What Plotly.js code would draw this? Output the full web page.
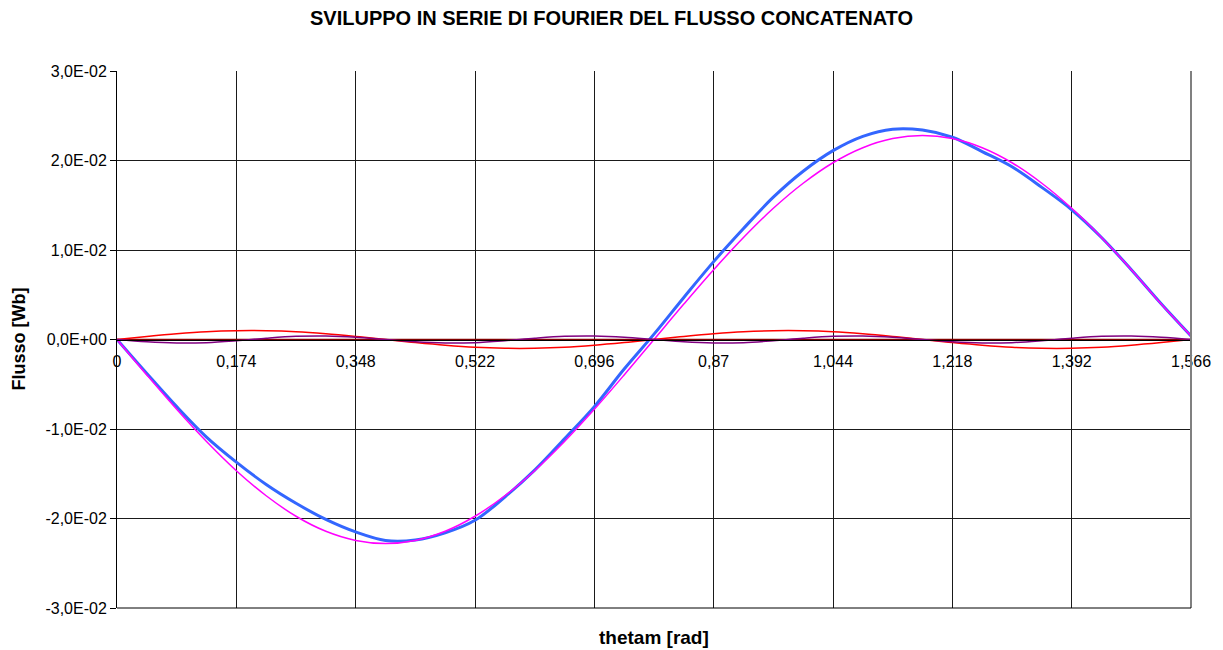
<!DOCTYPE html>
<html>
<head>
<meta charset="utf-8">
<script src="https://cdn.plot.ly/plotly-3.0.1.min.js"></script>
<style>html,body{margin:0;padding:0;background:#fff;}#chart{width:1223px;height:650px;}</style>
</head>
<body>
<div id="chart"></div>
<script>
// theta_m [rad]
const thetam = [0, 0.0435, 0.087, 0.1305, 0.174, 0.2175, 0.261, 0.3045, 0.348, 0.3915, 0.435, 0.4785, 0.522, 0.5655, 0.609, 0.6525, 0.696, 0.7395, 0.783, 0.8265, 0.87, 0.9135, 0.957, 1.0005, 1.044, 1.0875, 1.131, 1.1745, 1.218, 1.2615, 1.305, 1.3485, 1.392, 1.4355, 1.479, 1.5225, 1.566];

// total linked flux (blue)
const fluxTotal = [0, -0.0038, -0.0075, -0.0109, -0.0137, -0.0162, -0.0183, -0.0201, -0.0215, -0.02245, -0.0224, -0.0216, -0.0202, -0.0176, -0.0146, -0.0111, -0.0075, -0.0033, 0.0006, 0.0047, 0.0087, 0.0124, 0.0159, 0.0188, 0.0211, 0.0227, 0.0235, 0.0234, 0.0226, 0.0210, 0.0193, 0.0170, 0.0145, 0.0114, 0.0078, 0.0040, 0.0004];

// fundamental harmonic (magenta)
const harm1 = [0, -0.00396, -0.0078, -0.0114, -0.01466, -0.01746, -0.01975, -0.02143, -0.02245, -0.0228, -0.02245, -0.02143, -0.01975, -0.01746, -0.01466, -0.0114, -0.0078, -0.00396, 0, 0.00396, 0.0078, 0.0114, 0.01466, 0.01746, 0.01975, 0.02143, 0.02245, 0.0228, 0.02245, 0.02143, 0.01975, 0.01746, 0.01466, 0.0114, 0.0078, 0.00396, 0.0004];

// second harmonic (red)
const harm2 = [0, 0.00034, 0.00064, 0.00087, 0.00098, 0.00098, 0.00087, 0.00064, 0.00034, 0, -0.00034, -0.00064, -0.00087, -0.00098, -0.00098, -0.00087, -0.00064, -0.00034, 0, 0.00034, 0.00064, 0.00087, 0.00098, 0.00098, 0.00087, 0.00064, 0.00034, 0, -0.00034, -0.00064, -0.00087, -0.00098, -0.00098, -0.00087, -0.00064, -0.00034, 0];

// fourth harmonic (purple)
const harm4 = [0, -0.00026, -0.00039, -0.00035, -0.00014, 0.00014, 0.00035, 0.00039, 0.00026, 0, -0.00026, -0.00039, -0.00035, -0.00014, 0.00014, 0.00035, 0.00039, 0.00026, 0, -0.00026, -0.00039, -0.00035, -0.00014, 0.00014, 0.00035, 0.00039, 0.00026, 0, -0.00026, -0.00039, -0.00035, -0.00014, 0.00014, 0.00035, 0.00039, 0.00026, 0];

// third harmonic (dark red, null)
const harm3 = [0, 0, 0, 0, 0, 0, 0, 0, 0, 0, 0, 0, 0, 0, 0, 0, 0, 0, 0, 0, 0, 0, 0, 0, 0, 0, 0, 0, 0, 0, 0, 0, 0, 0, 0, 0, 0];

const xTickVals = [0, 0.174, 0.348, 0.522, 0.696, 0.87, 1.044, 1.218, 1.392, 1.566];
const xTickText = ["0", "0,174", "0,348", "0,522", "0,696", "0,87", "1,044", "1,218", "1,392", "1,566"];
const yTickVals = [-0.03, -0.02, -0.01, 0, 0.01, 0.02, 0.03];
const yTickText = ["-3,0E-02", "-2,0E-02", "-1,0E-02", "0,0E+00", "1,0E-02", "2,0E-02", "3,0E-02"];

const font = "Liberation Sans, Arial, sans-serif";
function tr(y, color, width) {
  return {x: thetam, y: y, type: 'scatter', mode: 'lines',
          line: {color: color, width: width, shape: 'spline', smoothing: 1},
          hoverinfo: 'skip', showlegend: false};
}
const data = [
  tr(fluxTotal, '#3366FF', 3),
  tr(harm1, '#FF00FF', 1.5),
  tr(harm3, '#800000', 1.5),
  tr(harm2, '#FF0000', 1.5),
  tr(harm4, '#800080', 1.5)
];
const layout = {
  width: 1223, height: 650,
  margin: {l: 117, r: 32, t: 71, b: 42, pad: 0},
  paper_bgcolor: '#ffffff', plot_bgcolor: '#ffffff',
  separators: ',.',
  showlegend: false,
  font: {family: font, size: 16, color: '#000'},
  title: {text: '<b>SVILUPPO IN SERIE DI FOURIER DEL FLUSSO CONCATENATO</b>',
          x: 0.5, xanchor: 'center', y: 0.973, yanchor: 'middle',
          font: {family: font, size: 20, color: '#000'}},
  xaxis: {
    range: [0, 1.566], tickmode: 'array', tickvals: xTickVals, ticktext: xTickText,
    anchor: 'free', position: 0.5,
    showgrid: true, gridcolor: '#1a1a1a', gridwidth: 1,
    showline: true, linecolor: '#000000', linewidth: 1,
    ticks: 'outside', ticklen: 7, tickcolor: 'rgba(0,0,0,0)', zeroline: false,
    tickfont: {family: font, size: 16, color: '#000'}
  },
  yaxis: {
    range: [-0.03, 0.03], tickmode: 'array', tickvals: yTickVals, ticktext: yTickText,
    showgrid: true, gridcolor: '#1a1a1a', gridwidth: 1,
    showline: true, linecolor: '#000000', linewidth: 1,
    ticks: 'outside', ticklen: 6, tickcolor: '#000', zeroline: false,
    tickfont: {family: font, size: 16, color: '#000'}
  },
  shapes: [
    {type: 'line', xref: 'paper', yref: 'paper', x0: 1, x1: 1, y0: 0, y1: 1,
     line: {color: '#808080', width: 2}},
    {type: 'line', xref: 'paper', yref: 'paper', x0: 0, x1: 1, y0: 0, y1: 0,
     line: {color: '#000000', width: 1}}
  ],
  annotations: [
    {text: '<b>thetam [rad]</b>', xref: 'paper', yref: 'paper', x: 0.5, y: 0,
     xanchor: 'center', yanchor: 'middle', yshift: -29, showarrow: false,
     font: {family: font, size: 19, color: '#000'}},
    {text: '<b>Flusso [Wb]</b>', xref: 'paper', yref: 'paper', x: 0, y: 0.5,
     xanchor: 'center', yanchor: 'middle', xshift: -99, textangle: -90, showarrow: false,
     font: {family: font, size: 18, color: '#000'}}
  ]
};
Plotly.newPlot('chart', data, layout, {displayModeBar: false, staticPlot: true});
</script>
</body>
</html>
